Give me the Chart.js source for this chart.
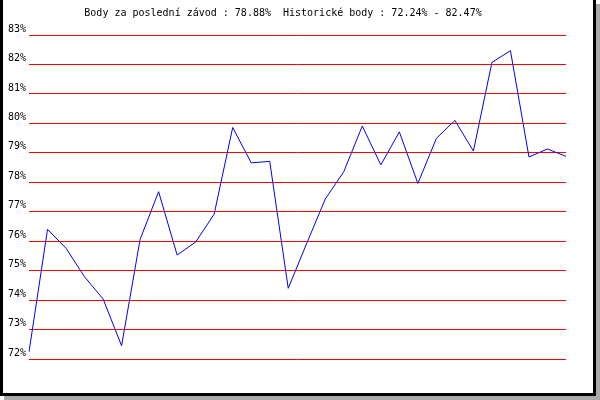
<!DOCTYPE html>
<html lang="cs">
<head>
  <meta charset="UTF-8" />
  <title>Body</title>
  <script src="https://cdn.jsdelivr.net/npm/chart.js"></script>
  <style>
    body { margin: 0; background: #fff; }
    #frame {
      position: absolute; left: 0; top: 0;
      width: 590px; height: 393px;
      border: 3px solid #000; border-top: none;
      box-shadow: 4px 4px 0 #aaaaaa;
      background: #fff;
    }
    #chart { position: absolute; left: 0; top: 0; }
  </style>
</head>
<body>
  <div id="frame"></div>
  <canvas id="chart" width="600" height="400"></canvas>

  <script>
    // race number (x) and points in % (y)
    const races = [];
    for (let i = 1; i <= 30; i++) races.push(i);
    const points = [72.24, 76.40, 75.76, 74.79, 74.04, 72.45, 76.06, 77.68, 75.53, 75.97,
                    76.92, 79.86, 78.66, 78.71, 74.40, 75.93, 77.43, 78.36, 79.91, 78.59,
                    79.71, 77.96, 79.49, 80.10, 79.06, 82.07, 82.47, 78.86, 79.13, 78.88];
    const yMin = 72, yMax = 83;
    const titleText = 'Body za poslední závod : 78.88%  Historické body : 72.24% - 82.47%';

    const font = { family: 'DejaVu Sans Mono', size: 10 };

    new Chart(document.getElementById('chart'), {
      type: 'line',
      data: {
        labels: races,
        datasets: [{
          data: points,
          borderColor: '#0000ee',
          borderWidth: 1,
          pointRadius: 0,
          tension: 0,
          fill: false
        }]
      },
      options: {
        responsive: false,
        animation: false,
        layout: { padding: { left: 0, right: 34, top: 0, bottom: 41 } },
        plugins: {
          legend: { display: false },
          tooltip: { enabled: false },
          title: {
            display: true,
            text: titleText,
            color: '#000',
            font: { ...font, weight: 'normal' },
            padding: { top: 7, bottom: 16 }
          }
        },
        scales: {
          x: { display: false },
          y: {
            min: yMin,
            max: yMax,
            afterFit: (scale) => { scale.width = 29; },
            border: { display: false },
            grid: { color: '#ff0000', lineWidth: 1, drawTicks: false },
            ticks: {
              stepSize: 1,
              color: '#000',
              font: font,
              padding: 3,
              labelOffset: -6,
              callback: (v) => v + '%'
            }
          }
        }
      }
    });
  </script>
</body>
</html>
